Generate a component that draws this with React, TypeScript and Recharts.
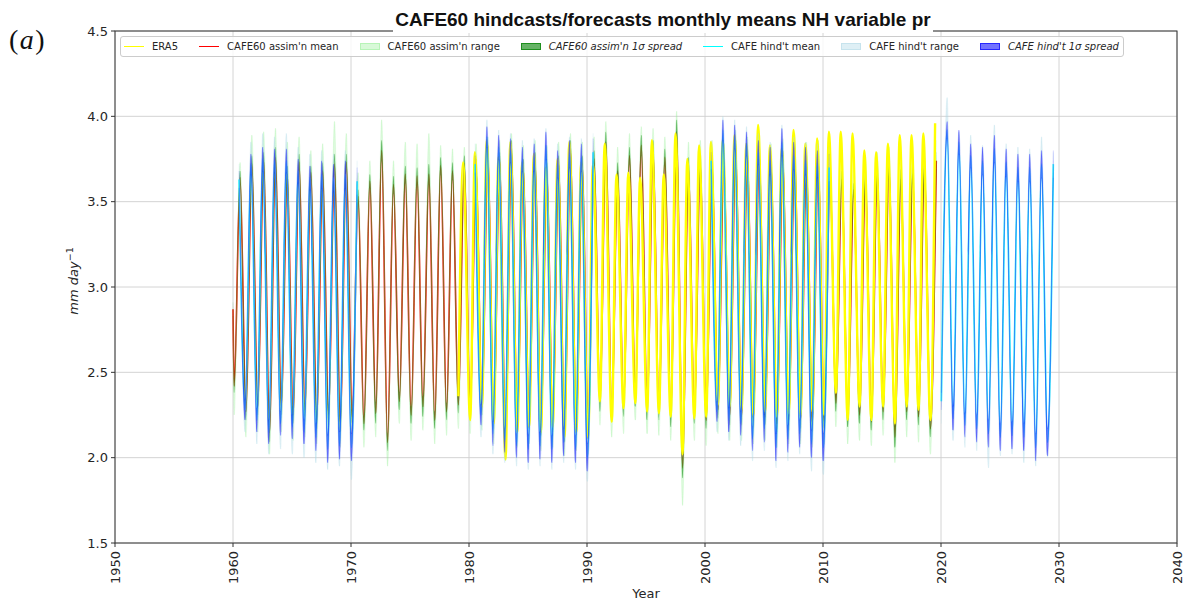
import { ComposedChart, Line, Area, XAxis, YAxis, CartesianGrid } from "recharts";

const YEAR_TICKS = [1950, 1960, 1970, 1980, 1990, 2000, 2010, 2020, 2030, 2040];
const PR_TICKS = [1.5, 2.0, 2.5, 3.0, 3.5, 4.0, 4.5];

// fraction of the year where the seasonal minimum / maximum sits
const MIN_PHASE = 0.1;
const MAX_PHASE = 0.6;
const ERA5_MAX_PHASE = 0.5;
const HIND_MIN_PHASE = 0.03;
const HIND_MAX_PHASE = 0.52;

// ERA5 1979-2019, yearly minimum and maximum of the monthly means (mm/day)
const ERA5_START = 1979;
const ERA5_MIN = [
  2.36, 2.22, 2.3, 2.2, 1.99, 2.15, 2.18, 2.15, 2.18, 2.12, 2.15, 2.12,
  2.33, 2.21, 2.29, 2.32, 2.27, 2.26, 2.24, 2.02, 2.23, 2.24,
  2.31, 2.3, 2.28, 2.25, 2.27, 2.24, 2.26, 2.25, 2.27, 2.25,
  2.38, 2.22, 2.3, 2.22, 2.3, 2.2, 2.3, 2.28, 2.22,
];
const ERA5_MAX = [
  3.73, 3.79, 3.86, 3.76, 3.85, 3.73, 3.78, 3.7, 3.75, 3.85, 3.73, 3.72,
  3.84, 3.66, 3.67, 3.64, 3.86, 3.66, 3.9, 3.75, 3.83, 3.85,
  3.86, 3.89, 3.84, 3.95, 3.83, 3.81, 3.92, 3.84, 3.87, 3.91,
  3.91, 3.9, 3.8, 3.79, 3.84, 3.89, 3.89, 3.9, 3.96,
];

// CAFE60 assimilation 1960-2019
const ASSIM_START = 1960;
const ASSIM_JAN1960 = 2.87;
const ASSIM_MIN = [
  2.42, 2.27, 2.3, 2.15, 2.3, 2.25, 2.28, 2.22, 2.25, 2.2,
  2.24, 2.2, 2.26, 2.09, 2.33, 2.25, 2.3, 2.22, 2.27, 2.31,
  2.28, 2.3, 2.22, 2.12, 2.2, 2.22, 2.18, 2.2, 2.15, 2.18,
  2.16, 2.33, 2.26, 2.29, 2.36, 2.28, 2.27, 2.25, 1.94, 2.25,
  2.22, 2.28, 2.25, 2.24, 2.22, 2.24, 2.2, 2.22, 2.22, 2.2,
  2.22, 2.32, 2.22, 2.25, 2.21, 2.27, 2.12, 2.27, 2.24, 2.17,
];
const ASSIM_MAX = [
  3.64, 3.72, 3.74, 3.76, 3.66, 3.73, 3.67, 3.68, 3.72, 3.73,
  3.53, 3.62, 3.8, 3.6, 3.66, 3.65, 3.66, 3.71, 3.68, 3.72,
  3.7, 3.78, 3.74, 3.8, 3.7, 3.74, 3.68, 3.72, 3.8, 3.72,
  3.75, 3.85, 3.68, 3.77, 3.83, 3.8, 3.76, 3.91, 3.7, 3.72,
  3.72, 3.71, 3.8, 3.76, 3.78, 3.72, 3.75, 3.78, 3.72, 3.74,
  3.63, 3.63, 3.57, 3.64, 3.67, 3.7, 3.63, 3.66, 3.71, 3.74,
];
const ASSIM_RANGE_LO = [
  2.25, 2.12, 2.15, 2.02, 2.15, 2.1, 2.12, 2.08, 2.1, 2.06,
  2.08, 2.06, 2.12, 1.95, 2.2, 2.1, 2.16, 2.08, 2.13, 2.17,
  2.14, 2.16, 2.08, 1.98, 2.06, 2.08, 2.04, 2.06, 2.01, 2.04,
  2.02, 2.19, 2.12, 2.14, 2.22, 2.14, 2.13, 2.1, 1.72, 2.1,
  2.07, 2.14, 2.1, 2.1, 2.08, 2.1, 2.06, 2.08, 2.08, 2.06,
  2.08, 2.18, 2.08, 2.1, 2.07, 2.13, 1.97, 2.12, 2.09, 2.02,
];
const ASSIM_RANGE_HI = [
  3.73, 3.89, 3.91, 3.93, 3.85, 3.88, 3.8, 3.84, 3.97, 3.9,
  3.67, 3.74, 3.98, 3.74, 3.85, 3.84, 3.9, 3.83, 3.81, 3.82,
  3.84, 3.88, 3.86, 3.9, 3.83, 3.86, 3.83, 3.85, 3.9, 3.85,
  3.88, 3.97, 3.82, 3.9, 3.94, 3.93, 3.88, 4.03, 3.85, 3.86,
  3.86, 3.84, 3.92, 3.88, 3.9, 3.84, 3.87, 3.9, 3.85, 3.86,
  3.76, 3.76, 3.7, 3.77, 3.79, 3.82, 3.76, 3.78, 3.82, 3.86,
];
const ASSIM_SD = [
  0.04, 0.05, 0.05, 0.06, 0.05, 0.05, 0.04, 0.05, 0.06, 0.05,
  0.04, 0.04, 0.06, 0.05, 0.05, 0.05, 0.06, 0.05, 0.05, 0.05,
  0.05, 0.05, 0.05, 0.06, 0.05, 0.05, 0.05, 0.05, 0.06, 0.05,
  0.05, 0.06, 0.05, 0.05, 0.06, 0.06, 0.05, 0.07, 0.06, 0.05,
  0.05, 0.05, 0.06, 0.05, 0.05, 0.05, 0.05, 0.06, 0.05, 0.05,
  0.05, 0.05, 0.04, 0.05, 0.05, 0.05, 0.06, 0.05, 0.05, 0.05,
];

// CAFE hindcasts started late 1960, 1980, 2000, and the forecast from 2020
const HIND60_MIN = [null, 2.28, 2.22, 2.15, 2.2, 2.18, 2.15, 2.12, 2.05, 2.07, 2.06];
const HIND60_MAX = [3.63, 3.72, 3.75, 3.74, 3.74, 3.68, 3.64, 3.66, 3.64, 3.66, 3.62];
const HIND60_LO = [null, 2.15, 2.08, 2.02, 2.05, 2.02, 2.0, 1.97, 1.93, 1.95, 1.87];
const HIND60_HI = [3.72, 3.85, 3.9, 3.88, 3.9, 3.82, 3.78, 3.8, 3.78, 3.8, 3.74];
const HIND60_SD = [0.05, 0.06, 0.07, 0.07, 0.07, 0.07, 0.07, 0.08, 0.08, 0.08, 0.08];

const HIND80_MIN = [null, 2.25, 2.14, 2.1, 2.07, 2.05, 2.07, 2.05, 2.09, 2.05, 2.0];
const HIND80_MAX = [3.72, 3.88, 3.82, 3.8, 3.75, 3.76, 3.83, 3.72, 3.78, 3.76, 3.79];
const HIND80_LO = [null, 2.12, 2.02, 1.97, 1.95, 1.93, 1.95, 1.93, 1.97, 1.93, 1.86];
const HIND80_HI = [3.84, 3.98, 3.92, 3.9, 3.86, 3.87, 3.93, 3.84, 3.88, 3.87, 3.9];
const HIND80_SD = [0.05, 0.06, 0.07, 0.07, 0.07, 0.08, 0.08, 0.08, 0.08, 0.08, 0.08];

const HIND00_MIN = [null, 2.27, 2.22, 2.2, 2.11, 2.17, 2.06, 2.11, 2.14, 2.08, 2.06];
const HIND00_MAX = [3.74, 3.92, 3.88, 3.84, 3.79, 3.74, 3.85, 3.77, 3.74, 3.72, 3.7];
const HIND00_LO = [null, 2.15, 2.1, 2.07, 1.98, 2.04, 1.94, 1.98, 2.02, 1.92, 1.9];
const HIND00_HI = [3.86, 4.0, 3.98, 3.94, 3.9, 3.85, 3.95, 3.88, 3.85, 3.84, 3.82];
const HIND00_SD = [0.05, 0.06, 0.07, 0.07, 0.07, 0.08, 0.08, 0.08, 0.08, 0.08, 0.08];

const FCST20_MIN = [2.33, 2.23, 2.19, 2.17, 2.14, 2.12, 2.13, 2.12, 2.06, 2.09];
const FCST20_MAX = [3.92, 3.85, 3.77, 3.74, 3.81, 3.73, 3.7, 3.7, 3.72, 3.72];
const FCST20_LO = [2.2, 2.1, 2.06, 2.04, 1.94, 2.01, 2.02, 1.97, 1.95, 2.0];
const FCST20_HI = [4.11, 3.91, 3.89, 3.83, 3.95, 3.84, 3.82, 3.81, 3.88, 3.79];
const FCST20_SD = [0.05, 0.07, 0.07, 0.08, 0.08, 0.08, 0.08, 0.08, 0.08, 0.08];

const ERA5_COLOR = "#ffff00";
const ASSIM_COLOR = "#ff0000";
const ASSIM_RANGE_COLOR = "#90ee90";
const ASSIM_SD_COLOR = "#008000";
const HIND_COLOR = "#00ffff";
const HIND_RANGE_COLOR = "#add8e6";
const HIND_SD_COLOR = "#0000ff";

type Pt = { t: number; v: number; range?: [number, number]; spread?: [number, number] };
type Val = number | null;

// alternate winter minimum and autumn maximum rows, with the envelopes around them
function seasonal(
  start: number,
  mins: Val[],
  maxs: Val[],
  lo: Val[],
  hi: Val[],
  sd: number[],
  minPhase = MIN_PHASE,
  maxPhase = MAX_PHASE,
): Pt[] {
  const pts: Pt[] = [];
  for (let i = 0; i < maxs.length; i++) {
    const mn = mins[i];
    const mx = maxs[i];
    if (mn != null) {
      pts.push({ t: start + i + minPhase, v: mn, range: [lo[i] as number, mn], spread: [mn - sd[i], mn + sd[i]] });
    }
    if (mx != null) {
      pts.push({ t: start + i + maxPhase, v: mx, range: [mx, hi[i] as number], spread: [mx - sd[i], mx + sd[i]] });
    }
  }
  return pts;
}

const era5: Pt[] = ERA5_MIN.flatMap((mn, i) => [
  { t: ERA5_START + i + MIN_PHASE, v: mn },
  { t: ERA5_START + i + ERA5_MAX_PHASE, v: ERA5_MAX[i] },
]);

const assim: Pt[] = [
  {
    t: ASSIM_START,
    v: ASSIM_JAN1960,
    range: [ASSIM_JAN1960, ASSIM_JAN1960],
    spread: [ASSIM_JAN1960 - ASSIM_SD[0], ASSIM_JAN1960 + ASSIM_SD[0]],
  },
  ...seasonal(ASSIM_START, ASSIM_MIN, ASSIM_MAX, ASSIM_RANGE_LO, ASSIM_RANGE_HI, ASSIM_SD),
];

const hindcasts = [
  { id: "h1960", pts: seasonal(1960, HIND60_MIN, HIND60_MAX, HIND60_LO, HIND60_HI, HIND60_SD, HIND_MIN_PHASE, HIND_MAX_PHASE) },
  { id: "h1980", pts: seasonal(1980, HIND80_MIN, HIND80_MAX, HIND80_LO, HIND80_HI, HIND80_SD, HIND_MIN_PHASE, HIND_MAX_PHASE) },
  { id: "h2000", pts: seasonal(2000, HIND00_MIN, HIND00_MAX, HIND00_LO, HIND00_HI, HIND00_SD, HIND_MIN_PHASE, HIND_MAX_PHASE) },
  { id: "f2020", pts: seasonal(2020, FCST20_MIN, FCST20_MAX, FCST20_LO, FCST20_HI, FCST20_SD, HIND_MIN_PHASE, HIND_MAX_PHASE) },
];

const LEGEND = [
  { label: "ERA5", kind: "line", color: ERA5_COLOR },
  { label: "CAFE60 assim'n mean", kind: "line", color: ASSIM_COLOR },
  { label: "CAFE60 assim'n range", kind: "patch", color: ASSIM_RANGE_COLOR, alpha: 0.35 },
  { label: "CAFE60 assim'n 1\u03c3 spread", kind: "patch", color: ASSIM_SD_COLOR, alpha: 0.6, italic: true },
  { label: "CAFE hind't mean", kind: "line", color: HIND_COLOR },
  { label: "CAFE hind't range", kind: "patch", color: HIND_RANGE_COLOR, alpha: 0.4 },
  { label: "CAFE hind't 1\u03c3 spread", kind: "patch", color: HIND_SD_COLOR, alpha: 0.55, italic: true },
];

const FONT = "'DejaVu Sans', Verdana, sans-serif";
const INK = "#262626";

function YearTick(props: any) {
  const { x, y, payload } = props;
  return (
    <text
      x={x}
      y={y}
      transform={`rotate(-90 ${x} ${y})`}
      textAnchor="end"
      dy="0.35em"
      fontSize={13}
      fill={INK}
      fontFamily={FONT}
    >
      {payload.value}
    </text>
  );
}

const hexA = (hex: string, a: number) => {
  const n = parseInt(hex.slice(1), 16);
  return `rgba(${(n >> 16) & 255},${(n >> 8) & 255},${n & 255},${a})`;
};

export default function App() {
  const common = { isAnimationActive: false, dot: false, activeDot: false, type: "monotone" as const };
  return (
    <div style={{ position: "absolute", left: 0, top: 0, width: 1184, height: 607, background: "#fff", fontFamily: FONT }}>
      <ComposedChart width={1184} height={607} margin={{ top: 31, right: 7, bottom: 14, left: 65 }}>
        <CartesianGrid stroke="#cfcfcf" strokeWidth={0.9} />
        <XAxis
          type="number"
          dataKey="t"
          domain={[1950, 2040]}
          ticks={YEAR_TICKS}
          interval={0}
          allowDataOverflow
          height={50}
          tick={<YearTick />}
          tickSize={4}
          tickMargin={4}
          tickLine={{ stroke: "#333" }}
          axisLine={false}
        />
        <YAxis
          type="number"
          domain={[1.5, 4.5]}
          ticks={PR_TICKS}
          interval={0}
          allowDataOverflow
          width={50}
          tickFormatter={(v: number) => v.toFixed(1)}
          tick={{ fontSize: 13, fill: INK, fontFamily: FONT }}
          tickSize={4}
          tickMargin={3}
          tickLine={{ stroke: "#333" }}
          axisLine={false}
        />

        {/* assimilation: mean line, then the ensemble envelopes drawn over it */}
        <Line {...common} data={assim} dataKey="v" stroke={ASSIM_COLOR} strokeWidth={1.6} zIndex={410} />
        <Area
          {...common}
          data={assim}
          dataKey="range"
          fill={ASSIM_RANGE_COLOR}
          fillOpacity={0.3}
          stroke={ASSIM_RANGE_COLOR}
          strokeOpacity={0.25}
          strokeWidth={0.8}
          zIndex={411}
        />
        <Area
          {...common}
          data={assim}
          dataKey="spread"
          fill={ASSIM_SD_COLOR}
          fillOpacity={0.5}
          stroke={ASSIM_SD_COLOR}
          strokeOpacity={0.18}
          strokeWidth={0.6}
          zIndex={412}
        />

        <Line {...common} data={era5} dataKey="v" stroke={ERA5_COLOR} strokeWidth={2.4} zIndex={413} />

        {hindcasts.map((h) => (
          <Line key={h.id + "-m"} {...common} data={h.pts} dataKey="v" stroke={HIND_COLOR} strokeWidth={1.6} zIndex={414} />
        ))}
        {hindcasts.map((h) => (
          <Area
            key={h.id + "-r"}
            {...common}
            data={h.pts}
            dataKey="range"
            fill={HIND_RANGE_COLOR}
            fillOpacity={0.4}
            stroke={HIND_RANGE_COLOR}
            strokeOpacity={0.3}
            strokeWidth={0.8}
            zIndex={415}
          />
        ))}
        {hindcasts.map((h) => (
          <Area
            key={h.id + "-s"}
            {...common}
            data={h.pts}
            dataKey="spread"
            fill={HIND_SD_COLOR}
            fillOpacity={0.5}
            stroke={HIND_SD_COLOR}
            strokeOpacity={0.22}
            strokeWidth={0.7}
            zIndex={416}
          />
        ))}
      </ComposedChart>

      <svg width={1184} height={607} style={{ position: "absolute", left: 0, top: 0, pointerEvents: "none" }}>
        <rect x={115} y={31} width={1062} height={512} fill="none" stroke="#333" strokeWidth={1} />
        <rect x={393} y={0} width={540} height={33} fill="#fff" />
        <text
          x={663}
          y={26}
          textAnchor="middle"
          fontFamily="'Liberation Sans', Arial, sans-serif"
          fontWeight="bold"
          fontSize={19}
          fill="#111"
        >
          CAFE60 hindcasts/forecasts monthly means NH variable pr
        </text>
        <text x={9} y={49} fontFamily="'Liberation Serif', 'Times New Roman', serif" fontSize={28} fill="#111" letterSpacing={1.5}>
          (<tspan fontStyle="italic">a</tspan>)
        </text>
        <text
          transform="translate(78 281) rotate(-90)"
          textAnchor="middle"
          fontSize={13}
          fontStyle="italic"
          fill={INK}
          fontFamily={FONT}
        >
          mm day
          <tspan dy={-5} fontSize={9.5} fontStyle="normal">{"\u22121"}</tspan>
        </text>
        <text x={646} y={598} textAnchor="middle" fontSize={13} fill={INK} fontFamily={FONT}>
          Year
        </text>
      </svg>

      <div
        style={{
          position: "absolute",
          left: 120,
          top: 36,
          height: 21,
          boxSizing: "border-box",
          display: "flex",
          alignItems: "center",
          padding: "0 4px 0 3px",
          gap: 21,
          border: "1px solid #cccccc",
          borderRadius: 3,
          background: "rgba(255,255,255,0.8)",
          fontSize: 10,
          color: INK,
          whiteSpace: "nowrap",
        }}
      >
        {LEGEND.map((item) => (
          <div key={item.label} style={{ display: "flex", alignItems: "center", gap: 8 }}>
            {item.kind === "line" ? (
              <div style={{ width: 20, height: 0, borderTop: `1.5px solid ${item.color}` }} />
            ) : (
              <div
                style={{
                  width: 20,
                  height: 7,
                  boxSizing: "border-box",
                  background: hexA(item.color, item.alpha ?? 1),
                  border: `1px solid ${hexA(item.color, Math.min(1, (item.alpha ?? 1) + 0.1))}`,
                }}
              />
            )}
            <span style={{ fontStyle: item.italic ? "italic" : "normal" }}>{item.label}</span>
          </div>
        ))}
      </div>
    </div>
  );
}
